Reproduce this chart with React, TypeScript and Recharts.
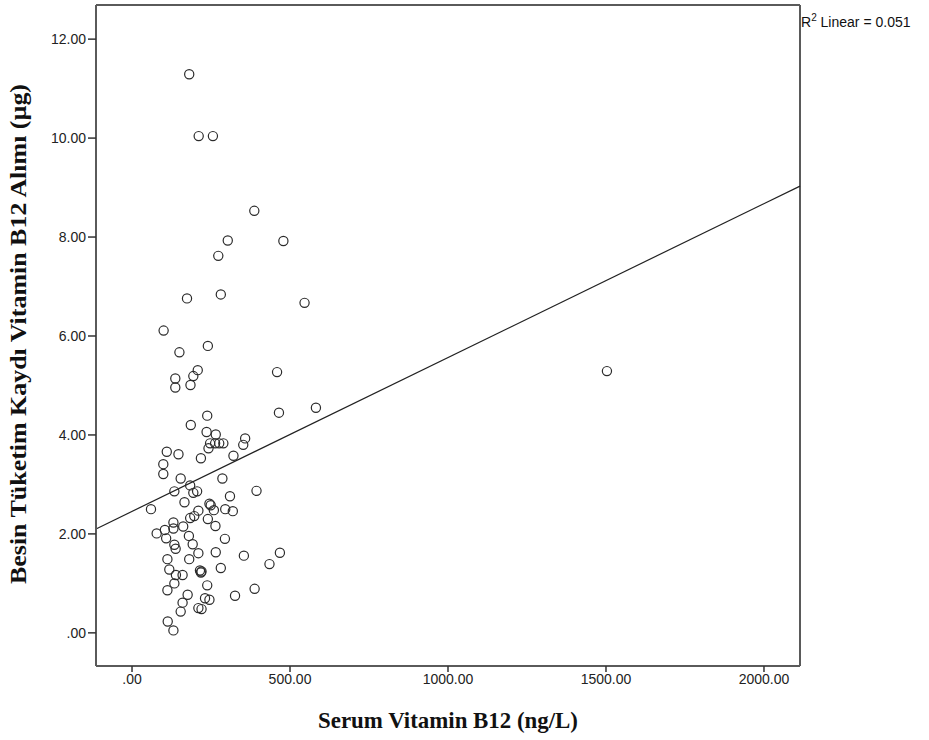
import React from 'react';
import { ScatterChart, Scatter, XAxis, YAxis, ReferenceLine } from 'recharts';

// Serum Vitamin B12 (ng/L) and recorded B12 intake (µg), one pair per subject
const serumB12 = [
  181, 211, 256, 387, 303, 479, 273, 174, 281, 546,
  100, 150, 240, 208, 194, 137, 137, 185, 459, 465,
  582, 238, 186, 236, 265, 242, 247, 263, 276, 289,
  358, 352, 110, 147, 218, 321, 99, 99, 154, 286,
  184, 134, 194, 206, 394, 310, 60, 166, 245, 249,
  210, 259, 295, 319, 184, 197, 240, 264, 131, 162,
  104, 131, 78, 108, 180, 192, 294, 134, 138, 112,
  181, 210, 265, 354, 468, 435, 281, 118, 160, 139,
  215, 218, 220, 134, 112, 238, 176, 245, 231, 326,
  388, 160, 154, 210, 220, 113, 131, 1503,
];
const intakeB12 = [
  11.29, 10.04, 10.04, 8.53, 7.93, 7.92, 7.62, 6.76, 6.84, 6.67,
  6.11, 5.67, 5.8, 5.31, 5.19, 5.14, 4.96, 5.01, 5.27, 4.45,
  4.55, 4.39, 4.2, 4.06, 4.01, 3.73, 3.83, 3.83, 3.83, 3.83,
  3.93, 3.8, 3.66, 3.61, 3.53, 3.58, 3.41, 3.21, 3.12, 3.12,
  2.98, 2.86, 2.83, 2.86, 2.87, 2.76, 2.5, 2.64, 2.61, 2.58,
  2.47, 2.48, 2.5, 2.46, 2.32, 2.36, 2.3, 2.16, 2.23, 2.15,
  2.08, 2.11, 2.01, 1.91, 1.96, 1.79, 1.9, 1.78, 1.7, 1.49,
  1.49, 1.61, 1.63, 1.56, 1.62, 1.39, 1.31, 1.28, 1.17, 1.17,
  1.26, 1.22, 1.24, 1.0, 0.86, 0.96, 0.77, 0.67, 0.7, 0.75,
  0.89, 0.61, 0.43, 0.5, 0.48, 0.23, 0.05, 5.29,
];

const xTicks = [0, 500, 1000, 1500, 2000];
const yTicks = [0, 2, 4, 6, 8, 10, 12];
const xDomain = [-114, 2114];
const yDomain = [-0.67, 12.69];

// linear fit (R² = 0.051)
const fitIntercept = 2.455;
const fitSlope = 0.00311;

const points = serumB12.map((x, i) => ({ x, y: intakeB12[i] }));
const fmt = (v: number) => (v === 0 ? '.00' : v.toFixed(2));

const Ring = (props: any) => (
  <circle cx={props.cx} cy={props.cy} r={4.6} fill="none" stroke="#2b2b2b" strokeWidth={1.2} />
);

const frame = { stroke: '#5a5a5a', strokeWidth: 2 };
const tickFont = { fontFamily: 'Liberation Sans, Arial, sans-serif', fontSize: 14, fill: '#222' };
const titleFont = { fontFamily: 'Liberation Serif, Times New Roman, serif', fontWeight: 'bold' as const, fontSize: 23, fill: '#111' };

export default function App() {
  return (
    <div style={{ position: 'absolute', left: 0, top: 0, width: 929, height: 740, background: '#fff' }}>
      <ScatterChart width={929} height={740} margin={{ top: 5, right: 129, bottom: 0, left: 0 }}>
        <XAxis
          type="number"
          dataKey="x"
          domain={xDomain}
          ticks={xTicks}
          allowDataOverflow
          height={74}
          tickSize={6}
          tickFormatter={fmt}
          tick={tickFont}
          axisLine={frame}
          tickLine={{ stroke: '#333', strokeWidth: 1.5 }}
        />
        <YAxis
          type="number"
          dataKey="y"
          domain={yDomain}
          ticks={yTicks}
          allowDataOverflow
          width={96}
          tickSize={8}
          tickFormatter={fmt}
          tick={tickFont}
          axisLine={frame}
          tickLine={{ stroke: '#333', strokeWidth: 1.5 }}
        />
        <ReferenceLine y={yDomain[1]} stroke="#5a5a5a" strokeWidth={2} />
        <ReferenceLine x={xDomain[1]} stroke="#5a5a5a" strokeWidth={2} />
        <ReferenceLine
          segment={[
            { x: xDomain[0], y: fitIntercept + fitSlope * xDomain[0] },
            { x: xDomain[1], y: fitIntercept + fitSlope * xDomain[1] },
          ]}
          stroke="#222"
          strokeWidth={1.2}
        />
        <Scatter data={points} shape={Ring} isAnimationActive={false} />
      </ScatterChart>
      <svg width={929} height={740} style={{ position: 'absolute', left: 0, top: 0, pointerEvents: 'none' }}>
        <text x={448} y={728} textAnchor="middle" textLength={260} lengthAdjust="spacingAndGlyphs" {...titleFont}>
          Serum Vitamin B12 (ng/L)
        </text>
        <text
          transform="translate(26,334) rotate(-90)"
          textAnchor="middle"
          textLength={500}
          lengthAdjust="spacingAndGlyphs"
          {...titleFont}
        >
          Besin Tüketim Kaydı Vitamin B12 Alımı (µg)
        </text>
        <text x={801} y={27} fontFamily="Liberation Sans, Arial, sans-serif" fontSize={14} fill="#111">
          R<tspan dy={-6} fontSize={10}>2</tspan>
          <tspan dy={6}> Linear = 0.051</tspan>
        </text>
      </svg>
    </div>
  );
}
